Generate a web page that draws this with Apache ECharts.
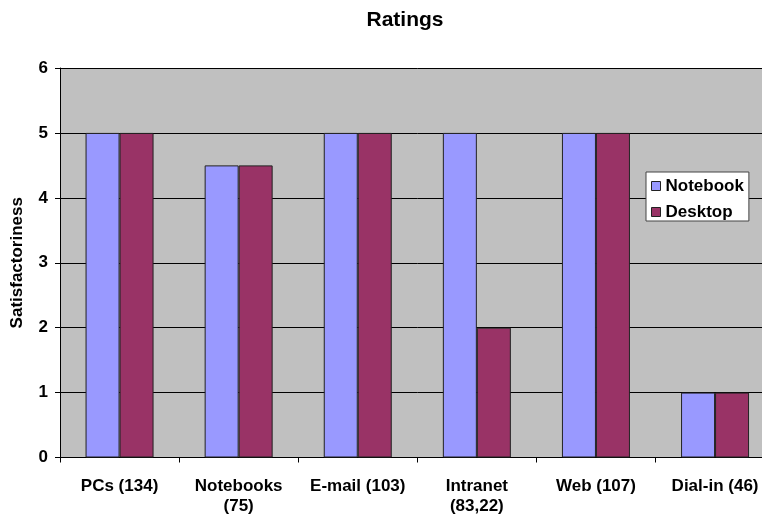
<!DOCTYPE html>
<html><head><meta charset="utf-8">
<script src="https://cdn.jsdelivr.net/npm/echarts@6/dist/echarts.min.js"></script>
<style>html,body{margin:0;padding:0;background:#fff;overflow:hidden;width:762px;height:518px}#c{width:800px;height:518px}</style>
</head><body><div id="c"></div>
<script>
const categories = ['PCs (134)', 'Notebooks\n(75)', 'E-mail (103)', 'Intranet\n(83,22)', 'Web (107)', 'Dial-in (46)'];
const notebook = [5, 4.5, 5, 5, 5, 1];
const desktop = [5, 4.5, 5, 2, 5, 1];
const yTicks = [0, 1, 2, 3, 4, 5, 6];

const chart = echarts.init(document.getElementById('c'), null, {renderer: 'canvas'});
const font = 'Liberation Sans, Arial, sans-serif';
chart.setOption({
  animation: false,
  title: {text: 'Ratings', left: 400, top: 5, textAlign: 'center',
    textStyle: {fontFamily: font, fontWeight: 'bold', fontSize: 21, color: '#000'}},
  grid: {left: 60, right: 25.4, top: 68, bottom: 60.5, show: true, backgroundColor: '#C0C0C0', borderWidth: 0},
  legend: {
    data: ['Notebook', 'Desktop'], orient: 'vertical', left: 646, top: 172,
    backgroundColor: '#fff', borderColor: '#444', borderWidth: 1,
    padding: [5, 5, 0, 5], itemGap: 8, itemWidth: 9, itemHeight: 9,
    icon: 'rect',
    itemStyle: {borderColor: '#222', borderWidth: 1},
    textStyle: {fontFamily: font, fontWeight: 'bold', fontSize: 17, lineHeight: 18, color: '#000'}
  },
  xAxis: {
    type: 'category', data: categories,
    axisLine: {lineStyle: {color: '#000', width: 1}},
    axisTick: {show: true, length: 5, lineStyle: {color: '#000'}},
    axisLabel: {fontFamily: font, fontWeight: 'bold', fontSize: 17, color: '#000', margin: 19, lineHeight: 20, interval: 0}
  },
  yAxis: {
    type: 'value', min: yTicks[0], max: yTicks[yTicks.length - 1], interval: 1,
    name: 'Satisfactoriness', nameLocation: 'middle', nameGap: 34, nameRotate: 90,
    nameTextStyle: {fontFamily: font, fontWeight: 'bold', fontSize: 17, color: '#000'},
    axisLine: {show: true, lineStyle: {color: '#000'}},
    axisTick: {show: true, length: 5, lineStyle: {color: '#000'}},
    axisLabel: {fontFamily: font, fontWeight: 'bold', fontSize: 17, color: '#000', margin: 12},
    splitLine: {show: true, lineStyle: {color: '#000', width: 1}}
  },
  series: [
    {name: 'Notebook', type: 'bar', data: notebook, barGap: '0%', barWidth: 34,
      itemStyle: {color: '#9999FF', borderColor: '#222', borderWidth: 1}},
    {name: 'Desktop', type: 'bar', data: desktop, barWidth: 34,
      itemStyle: {color: '#993366', borderColor: '#222', borderWidth: 1}}
  ]
});
</script></body></html>
